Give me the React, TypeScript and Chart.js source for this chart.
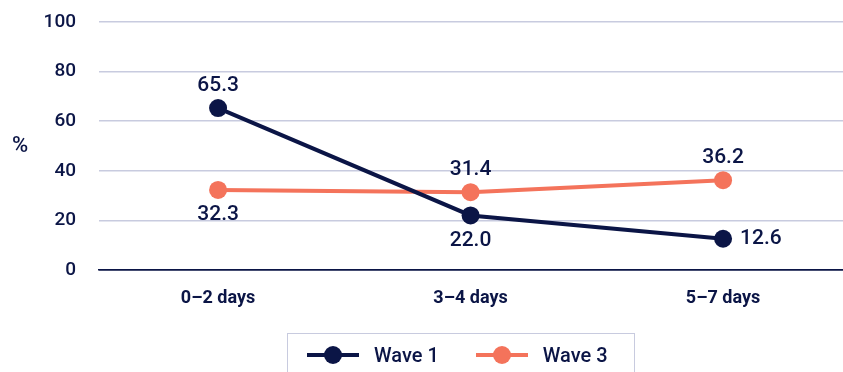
import React, { useEffect, useRef } from "react";
import { Chart, registerables } from "chart.js";

Chart.register(...registerables);

const categories = ["0–2 days", "3–4 days", "5–7 days"];
const wave1 = [65.3, 22.0, 12.6];
const wave3 = [32.3, 31.4, 36.2];
const seriesNames = ["Wave 1", "Wave 3"];
const yTicks = [0, 20, 40, 60, 80, 100];

const NAVY = "#0b1546";
const CORAL = "#f4735b";
const GRID = "#c8cbdf";
const FONT = "Roboto, 'Noto Sans', sans-serif";

// label placement for each series/point
const labelPos = [
  ["top", "bottom", "right"],
  ["bottom", "top", "top"],
];

const labelPlugin = {
  id: "pointLabels",
  afterDatasetsDraw(chart: any) {
    const ctx = chart.ctx;
    ctx.save();
    ctx.font = `500 21px ${FONT}`;
    ctx.fillStyle = NAVY;
    chart.data.datasets.forEach((ds: any, di: number) => {
      const meta = chart.getDatasetMeta(di);
      meta.data.forEach((pt: any, i: number) => {
        const v = ds.data[i].y;
        const txt = v.toFixed(1);
        const pos = labelPos[di][i];
        if (pos === "top") {
          ctx.textAlign = "center";
          ctx.textBaseline = "middle";
          ctx.fillText(txt, pt.x, pt.y - 22);
        } else if (pos === "bottom") {
          ctx.textAlign = "center";
          ctx.textBaseline = "middle";
          ctx.fillText(txt, pt.x, pt.y + 25);
        } else {
          ctx.textAlign = "left";
          ctx.textBaseline = "middle";
          ctx.fillText(txt, pt.x + 17, pt.y);
        }
      });
    });
    ctx.restore();
  },
};

const percentPlugin = {
  id: "percentTitle",
  afterDraw(chart: any) {
    const ctx = chart.ctx;
    ctx.save();
    ctx.font = `500 22px ${FONT}`;
    ctx.fillStyle = NAVY;
    ctx.textAlign = "center";
    ctx.textBaseline = "middle";
    ctx.fillText("%", 20, 146);
    ctx.restore();
  },
};

function LegendItem({ color, label }: { color: string; label: string }) {
  return (
    <div style={{ display: "flex", alignItems: "center", flexShrink: 0, marginRight: 37 }}>
      <div style={{ position: "relative", width: 52, height: 18, marginRight: 15, flexShrink: 0 }}>
        <div
          style={{
            position: "absolute",
            left: 0,
            top: 7,
            width: 52,
            height: 4,
            background: color,
          }}
        />
        <div
          style={{
            position: "absolute",
            left: 17,
            top: 0,
            width: 18,
            height: 18,
            borderRadius: "50%",
            background: color,
          }}
        />
      </div>
      <span style={{ fontFamily: FONT, fontSize: 20, fontWeight: 500, color: NAVY, whiteSpace: "nowrap" }}>
        {label}
      </span>
    </div>
  );
}

export default function App() {
  const ref = useRef<HTMLCanvasElement>(null);

  useEffect(() => {
    if (!ref.current) return;
    const mk = (vals: number[]) => vals.map((y, i) => ({ x: i, y }));
    const chart = new Chart(ref.current, {
      type: "line",
      data: {
        datasets: [
          {
            label: seriesNames[0],
            data: mk(wave1),
            borderColor: NAVY,
            backgroundColor: NAVY,
            borderWidth: 4,
            pointRadius: 9,
            pointHoverRadius: 9,
            pointBorderWidth: 0,
          },
          {
            label: seriesNames[1],
            data: mk(wave3),
            borderColor: CORAL,
            backgroundColor: CORAL,
            borderWidth: 4,
            pointRadius: 9,
            pointHoverRadius: 9,
            pointBorderWidth: 0,
          },
        ],
      },
      options: {
        animation: false,
        responsive: false,
        maintainAspectRatio: false,
        layout: { autoPadding: false, padding: { top: 22, right: 0, left: 0, bottom: 0 } },
        plugins: {
          legend: { display: false },
          tooltip: { enabled: false },
        },
        scales: {
          x: {
            type: "linear",
            min: -0.4716,
            max: 2.475,
            afterBuildTicks: (s: any) => {
              s.ticks = categories.map((_, i) => ({ value: i }));
            },
            afterFit: (s: any) => {
              s.height = 102;
              s.paddingLeft = 0;
              s.paddingRight = 0;
            },
            grid: { display: false, drawTicks: false },
            border: { display: true, color: NAVY, width: 1.5 },
            ticks: {
              padding: 18,
              color: NAVY,
              font: { family: FONT, size: 18, weight: "bold" },
              callback: (v: any) => categories[v] ?? "",
            },
          },
          y: {
            min: 0,
            max: 100,
            afterBuildTicks: (s: any) => {
              s.ticks = yTicks.map((v) => ({ value: v }));
            },
            afterFit: (s: any) => {
              s.width = 99;
              s.paddingTop = 0;
              s.paddingBottom = 0;
            },
            grid: {
              drawTicks: false,
              color: (c: any) => (c.tick && c.tick.value === 0 ? NAVY : GRID),
              lineWidth: 1.5,
            },
            border: { display: false },
            ticks: {
              padding: 23,
              color: NAVY,
              font: { family: FONT, size: 19, weight: "500" },
            },
          },
        },
      },
      plugins: [labelPlugin, percentPlugin],
    } as any);
    return () => chart.destroy();
  }, []);

  return (
    <div style={{ position: "absolute", left: 0, top: 0, width: 843, height: 372, overflow: "hidden", background: "#fff" }}>
      <canvas ref={ref} width={843} height={372} style={{ position: "absolute", left: 0, top: 0 }} />
      <div
        style={{
          position: "absolute",
          left: 287,
          top: 333,
          width: 348,
          height: 60,
          boxSizing: "border-box",
          border: `1.5px solid ${GRID}`,
          display: "flex",
          alignItems: "flex-start",
          paddingTop: 9,
          paddingLeft: 19,
          overflow: "visible",
        }}
      >
        <LegendItem color={NAVY} label={seriesNames[0]} />
        <LegendItem color={CORAL} label={seriesNames[1]} />
      </div>
    </div>
  );
}
